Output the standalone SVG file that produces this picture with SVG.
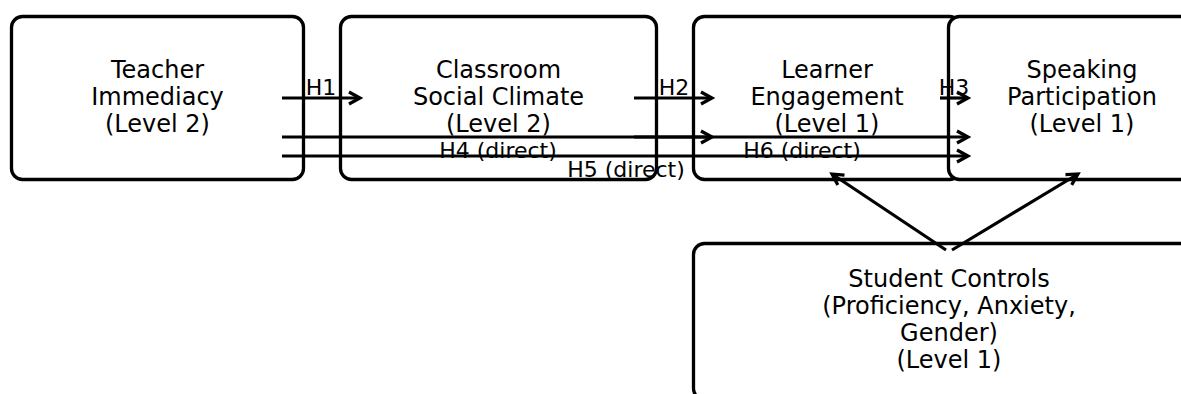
<svg xmlns="http://www.w3.org/2000/svg" width="1181" height="394" viewBox="0 0 1181 394">
<style>
.box{fill:#fff;stroke:#000;stroke-width:3.3}
.lbl{font-family:"DejaVu Sans",sans-serif;font-size:24px;fill:#000;text-anchor:middle}
.hl{font-family:"DejaVu Sans",sans-serif;font-size:22px;fill:#000;text-anchor:middle}
.ar{stroke:#000;stroke-width:3.2;fill:none;marker-end:url(#ah)}
</style>
<defs>
<marker id="ah" markerUnits="userSpaceOnUse" markerWidth="24" markerHeight="24" viewBox="-14 -12 24 24" refX="0" refY="0" orient="auto" overflow="visible">
<path d="M-11,-6 L0,0 L-11,6" fill="none" stroke="#000" stroke-width="3.2" stroke-linejoin="miter"/>
</marker>
</defs>
<rect width="1181" height="394" fill="#fff"/>
<g id="teacher">
<rect class="box" x="11.5" y="16.5" width="292" height="163" rx="11"/>
<text class="lbl" x="157.5" y="78">Teacher</text>
<text class="lbl" x="157.5" y="105">Immediacy</text>
<text class="lbl" x="157.5" y="132">(Level 2)</text>
</g>
<g id="classroom">
<rect class="box" x="340.5" y="16.5" width="316" height="163" rx="11"/>
<text class="lbl" x="498.5" y="78">Classroom</text>
<text class="lbl" x="498.5" y="105">Social Climate</text>
<text class="lbl" x="498.5" y="132">(Level 2)</text>
</g>
<g id="learner">
<rect class="box" x="693.5" y="16.5" width="267" height="163" rx="11"/>
<text class="lbl" x="827" y="78">Learner</text>
<text class="lbl" x="827" y="105">Engagement</text>
<text class="lbl" x="827" y="132">(Level 1)</text>
</g>
<g id="speaking">
<rect class="box" x="948.5" y="16.5" width="267" height="163" rx="11"/>
<text class="lbl" x="1082" y="78">Speaking</text>
<text class="lbl" x="1082" y="105">Participation</text>
<text class="lbl" x="1082" y="132">(Level 1)</text>
</g>
<g id="controls">
<rect class="box" x="693.5" y="243.5" width="511" height="156" rx="11"/>
<text class="lbl" x="949" y="287">Student Controls</text>
<text class="lbl" x="949" y="314">(Proficiency, Anxiety,</text>
<text class="lbl" x="949" y="341">Gender)</text>
<text class="lbl" x="949" y="368">(Level 1)</text>
</g>
<g id="connectors">
<line class="ar" x1="282" y1="98" x2="360" y2="98"/>
<line class="ar" x1="634" y1="98" x2="712" y2="98"/>
<line class="ar" x1="940" y1="98" x2="968" y2="98"/>
<line class="ar" x1="282" y1="137" x2="712" y2="137"/>
<line class="ar" x1="634" y1="137" x2="968" y2="137"/>
<line class="ar" x1="282" y1="156" x2="968" y2="156"/>
<line class="ar" x1="946" y1="250" x2="832" y2="174"/>
<line class="ar" x1="952" y1="250" x2="1078" y2="174"/>
<text class="hl" x="321" y="95">H1</text>
<text class="hl" x="674" y="95">H2</text>
<text class="hl" x="954" y="95">H3</text>
<text class="hl" x="498" y="158">H4 (direct)</text>
<text class="hl" x="626" y="177">H5 (direct)</text>
<text class="hl" x="802" y="158">H6 (direct)</text>
</g>
</svg>
